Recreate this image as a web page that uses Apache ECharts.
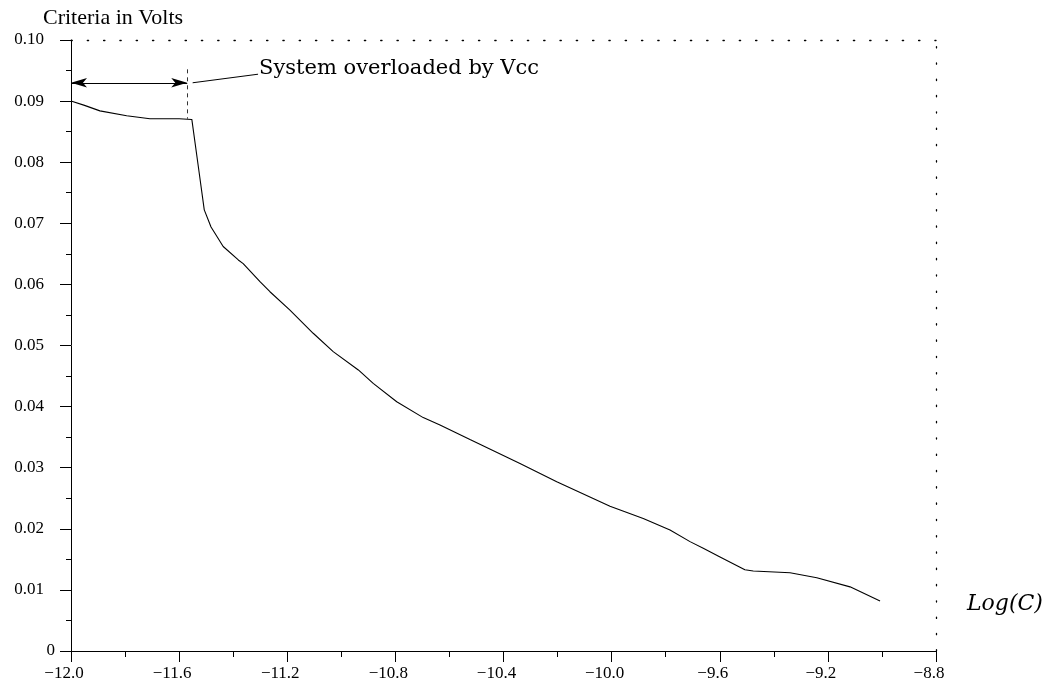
<!DOCTYPE html>
<html>
<head>
<meta charset="utf-8">
<script src="https://cdn.jsdelivr.net/npm/echarts@6/dist/echarts.min.js"></script>
<style>html,body{margin:0;padding:0;background:#fff;}#chart{width:1052px;height:700px;}</style>
</head>
<body>
<div id="chart"></div>
<script>
// ---- data ----
var logC = [-12.000, -11.950, -11.893, -11.794, -11.708, -11.600, -11.553, -11.529, -11.507, -11.482, -11.437, -11.381, -11.363, -11.300, -11.264, -11.190, -11.104, -11.030, -10.937, -10.882, -10.795, -10.697, -10.635, -10.524, -10.339, -10.203, -10.006, -9.883, -9.784, -9.710, -9.661, -9.599, -9.507, -9.476, -9.340, -9.241, -9.118, -9.007];
var criteria = [0.0900, 0.0893, 0.0884, 0.0876, 0.0871, 0.0871, 0.0870, 0.0793, 0.0722, 0.0694, 0.0662, 0.0640, 0.0634, 0.0604, 0.0588, 0.0558, 0.0520, 0.0490, 0.0460, 0.0438, 0.0408, 0.0382, 0.0370, 0.0346, 0.0307, 0.0277, 0.0237, 0.0217, 0.0198, 0.0179, 0.0168, 0.0154, 0.0133, 0.0131, 0.0128, 0.0120, 0.0105, 0.0082];
var xTicks = {min: -12.0, max: -8.8, step: 0.4};
var yTicks = {min: 0, max: 0.10, step: 0.01};
var overloadStart = -12.0, overloadEnd = -11.57, arrowLevel = 0.0930;
var dashedTop = 0.0952, dashedBottom = 0.0871;
var calloutEnd = [-11.308, 0.0944];
var calloutText = 'System overloaded by Vcc';
var yTitle = 'Criteria in Volts';
var xTitle = 'Log(C)';

var points = logC.map(function (x, i) { return [x, criteria[i]]; });

var serif = 'Liberation Serif';
var chart = echarts.init(document.getElementById('chart'), null, {renderer: 'canvas'});
var dotted = {color: '#000', width: 1.3, type: [1.3, 15]};

var option = {
  animation: false,
  backgroundColor: '#fff',
  grid: {left: 71, right: 116, top: 40, bottom: 49, containLabel: false},
  xAxis: [{
    type: 'value', min: xTicks.min, max: xTicks.max, interval: xTicks.step,
    axisLine: {show: true, onZero: false, lineStyle: {color: '#000', width: 1}},
    axisTick: {show: true, length: 11, lineStyle: {color: '#000', width: 1}},
    minorTick: {show: true, splitNumber: 2, length: 6, lineStyle: {color: '#000', width: 1}},
    splitLine: {show: false},
    axisLabel: {
      color: '#000', fontFamily: serif, fontSize: 17, margin: 14, padding: [0, 14, 0, 0],
      formatter: function (v) { return v.toFixed(1).replace('-', '\u2212'); }
    }
  }, {
    type: 'value', position: 'top', min: xTicks.min, max: xTicks.max,
    axisLine: {show: true, onZero: false, lineStyle: dotted},
    axisTick: {show: false}, axisLabel: {show: false}, splitLine: {show: false}
  }],
  yAxis: [{
    type: 'value', min: yTicks.min, max: yTicks.max, interval: yTicks.step,
    axisLine: {show: true, onZero: false, lineStyle: {color: '#000', width: 1}},
    axisTick: {show: true, length: 11, lineStyle: {color: '#000', width: 1}},
    minorTick: {show: true, splitNumber: 2, length: 5, lineStyle: {color: '#000', width: 1}},
    splitLine: {show: false},
    axisLabel: {
      color: '#000', fontFamily: serif, fontSize: 17, margin: 16,
      formatter: function (v) { return v === 0 ? '{z|0}' : '{n|' + v.toFixed(2) + '}'; },
      rich: {
        z: {fontFamily: serif, fontSize: 17, color: '#000'},
        n: {fontFamily: serif, fontSize: 17, color: '#000', padding: [0, 11, 0, 0]}
      }
    }
  }, {
    type: 'value', position: 'right', min: yTicks.min, max: yTicks.max,
    axisLine: {show: true, onZero: false, lineStyle: dotted},
    axisTick: {show: false}, axisLabel: {show: false}, splitLine: {show: false}
  }],
  series: [{
    type: 'line', xAxisIndex: 0, yAxisIndex: 0,
    data: points, showSymbol: false, symbol: 'none', smooth: false,
    lineStyle: {color: '#000', width: 1.1},
    silent: true,
    markLine: {
      silent: true, animation: false,
      symbol: ['arrow', 'arrow'], symbolSize: [7, 16],
      label: {show: false},
      lineStyle: {color: '#000', width: 1, type: 'solid'},
      emphasis: {disabled: true},
      data: [
        [{coord: [overloadStart, arrowLevel]}, {coord: [overloadEnd, arrowLevel]}],
        [{coord: [overloadEnd, dashedTop], symbol: 'none', lineStyle: {type: [4, 4], color: '#333'}},
         {coord: [overloadEnd, dashedBottom], symbol: 'none'}],
        [{coord: [overloadEnd + 0.02, arrowLevel], symbol: 'none'},
         {coord: calloutEnd, symbol: 'none'}]
      ]
    }
  }]
};
chart.setOption(option);

var tp = chart.convertToPixel({gridIndex: 0}, [calloutEnd[0], calloutEnd[1] + 0.0009]);
chart.setOption({
  graphic: [
    {type: 'text', x: tp[0] + 1, y: tp[1], silent: true,
     style: {text: calloutText, fontFamily: 'DejaVu Serif', fontSize: 21, fill: '#000', align: 'left', verticalAlign: 'middle'}},
    {type: 'text', x: 43, y: 18.5, silent: true,
     style: {text: yTitle, fontFamily: serif, fontSize: 22, fill: '#000', align: 'left', verticalAlign: 'middle'}},
    {type: 'text', x: 967, y: 604, silent: true,
     style: {text: xTitle, fontFamily: 'DejaVu Serif', fontStyle: 'italic', fontSize: 22, fill: '#000', align: 'left', verticalAlign: 'middle'}}
  ]
});
</script>
</body>
</html>
